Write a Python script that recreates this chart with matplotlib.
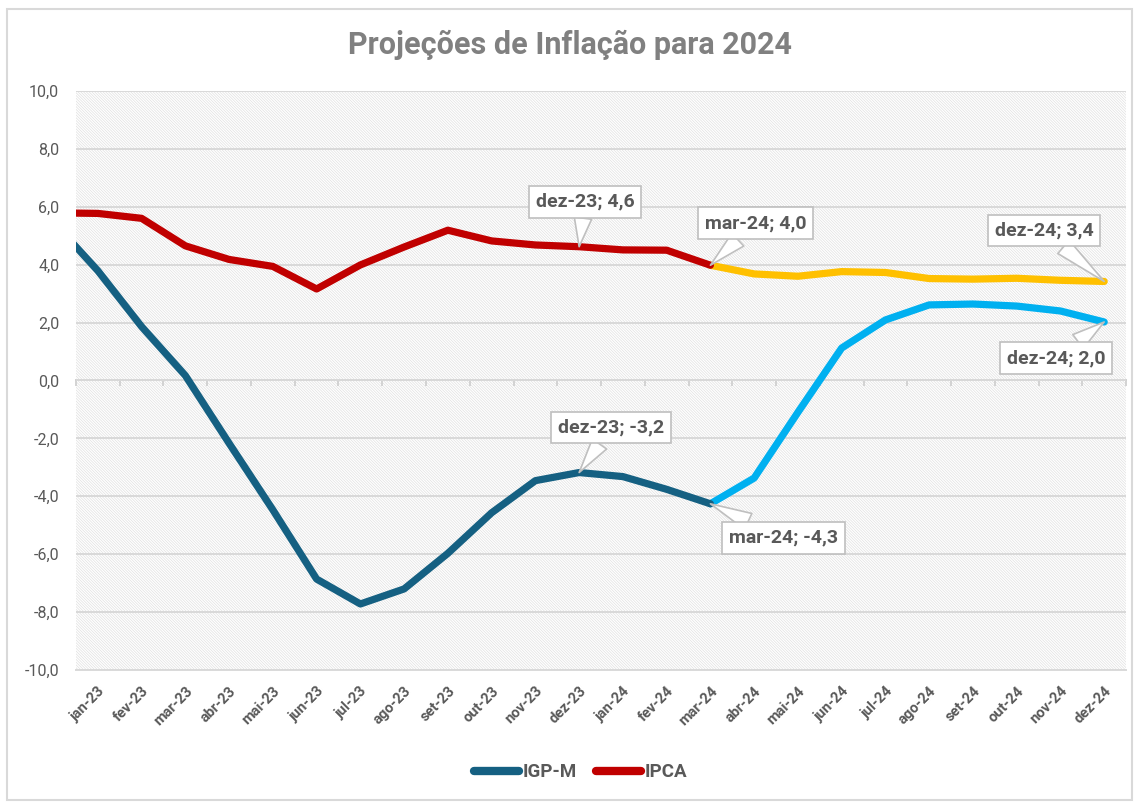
import matplotlib.pyplot as plt
from matplotlib.patches import Rectangle
from matplotlib.ticker import FuncFormatter

plt.rcParams['font.family'] = ['Roboto', 'DejaVu Sans']
plt.rcParams['hatch.linewidth'] = 0.5

meses = ['jan-23', 'fev-23', 'mar-23', 'abr-23', 'mai-23', 'jun-23', 'jul-23', 'ago-23',
         'set-23', 'out-23', 'nov-23', 'dez-23', 'jan-24', 'fev-24', 'mar-24', 'abr-24',
         'mai-24', 'jun-24', 'jul-24', 'ago-24', 'set-24', 'out-24', 'nov-24', 'dez-24']

# valor de dez-22 (fica cortado na borda esquerda do grafico)
igpm_dez22 = 5.45
ipca_dez22 = 5.79

# realizado jan-23 .. mar-24
igpm_hist = [3.79, 1.86, 0.17, -2.17, -4.47, -6.86, -7.72, -7.20, -5.97, -4.57, -3.46,
             -3.18, -3.32, -3.76, -4.26]
ipca_hist = [5.77, 5.60, 4.65, 4.18, 3.94, 3.16, 3.99, 4.61, 5.19, 4.82, 4.68, 4.62,
             4.51, 4.50, 3.98]

# projecoes abr-24 .. dez-24
igpm_proj = [-3.37, -1.10, 1.12, 2.09, 2.61, 2.64, 2.57, 2.40, 2.02]
ipca_proj = [3.68, 3.60, 3.76, 3.73, 3.52, 3.50, 3.53, 3.46, 3.42]

cinza = '#595959'
c_igpm, c_igpm_p = '#156082', '#00B0F0'
c_ipca, c_ipca_p = '#C00000', '#FFC000'

fig = plt.figure(figsize=(11.34, 8.02), dpi=100)
fig.patches.append(Rectangle((0.006, 0.003), 0.992, 0.986, transform=fig.transFigure,
                             fill=False, ec='#D9D9D9', lw=1.5))
ax = fig.add_axes([0.067, 0.1646, 0.926, 0.722])

n_hist = len(igpm_hist)
x_hist = list(range(-1, n_hist))
x_proj = list(range(n_hist - 1, len(meses)))

ax.add_patch(Rectangle((0, 0), 1, 1, transform=ax.transAxes, fc='white', ec='#E0E0E0',
                       lw=0, hatch='\\' * 12, zorder=0))
ax.set_ylim(-10, 10)
ax.set_xlim(-0.5, len(meses) - 0.5)
ax.set_yticks(range(-10, 11, 2))
ax.yaxis.set_major_formatter(FuncFormatter(lambda v, p: f'{v:.1f}'.replace('.', ',')))
ax.grid(axis='y', color='#D9D9D9', lw=1.4, zorder=1)
ax.set_axisbelow(True)

ax.plot(x_proj, [ipca_hist[-1]] + ipca_proj, color=c_ipca_p, lw=5.2,
        solid_capstyle='round', solid_joinstyle='round', zorder=3)
ax.plot(x_proj, [igpm_hist[-1]] + igpm_proj, color=c_igpm_p, lw=5.2,
        solid_capstyle='round', solid_joinstyle='round', zorder=3)
ax.plot(x_hist, [igpm_dez22] + igpm_hist, color=c_igpm, lw=5.2, label='IGP-M',
        solid_capstyle='round', solid_joinstyle='round', zorder=4)
ax.plot(x_hist, [ipca_dez22] + ipca_hist, color=c_ipca, lw=5.2, label='IPCA',
        solid_capstyle='round', solid_joinstyle='round', zorder=4)

ax.set_xticks(range(len(meses)))
ax.set_xticklabels(meses, rotation=45, ha='right', rotation_mode='anchor',
                   fontsize=10.5, fontweight='bold', color=cinza)
ax.tick_params(axis='x', length=0, pad=10)
ax.tick_params(axis='y', length=0, labelsize=11.5, labelcolor=cinza, pad=12)
for s in ['top', 'right', 'left']:
    ax.spines[s].set_visible(False)
ax.spines['bottom'].set_color('#D9D9D9')
ax.spines['bottom'].set_linewidth(1.4)

# eixo horizontal no zero com marcas entre categorias
sec = ax.secondary_xaxis(0.5)
sec.set_xticks([i - 0.5 for i in range(len(meses) + 1)])
sec.tick_params(axis='x', direction='in', length=4, color='#D0D0D0', width=1.3,
                labeltop=False, labelbottom=False)
for s in sec.spines.values():
    s.set_color('#D0D0D0')
    s.set_linewidth(1.4)

fig.text(0.503, 0.944, 'Projeções de Inflação para 2024', ha='center', va='center',
         fontsize=22, fontweight='bold', color='#808080')

def rotulo(serie, i, dx, dy):
    txt = f'{meses[i]}; {serie[i]:.1f}'.replace('.', ',')
    ax.annotate(txt, xy=(i, serie[i]), xytext=(dx, dy), textcoords='offset pixels',
                ha='center', va='center', fontsize=14, fontweight='bold', color=cinza,
                bbox=dict(boxstyle='square,pad=0.35', fc='white', ec='#BFBFBF', lw=1.2),
                arrowprops=dict(arrowstyle='wedge,tail_width=0.9,shrink_factor=0.5',
                                fc='white', ec='#BFBFBF', lw=1.2, shrinkA=0, shrinkB=0),
                zorder=6)

igpm_all = igpm_hist + igpm_proj
ipca_all = ipca_hist + ipca_proj
rotulo(ipca_all, 11, 6, 45)
rotulo(ipca_all, 14, 45, 42)
rotulo(ipca_all, 23, -60, 51)
rotulo(igpm_all, 23, -48, -36)
rotulo(igpm_all, 11, 32, 45)
rotulo(igpm_all, 14, 73, -34)

leg = ax.legend(loc='center', bbox_to_anchor=(0.512, 0.037), bbox_transform=fig.transFigure,
                ncol=2, frameon=False, fontsize=13.5, handlelength=2.4, columnspacing=1.0,
                handletextpad=0.2)
for t in leg.get_texts():
    t.set_color(cinza)
    t.set_fontweight('bold')
for h in leg.get_lines():
    h.set_linewidth(6)
    h.set_solid_capstyle('round')

fig.savefig('out.png', dpi=100)
